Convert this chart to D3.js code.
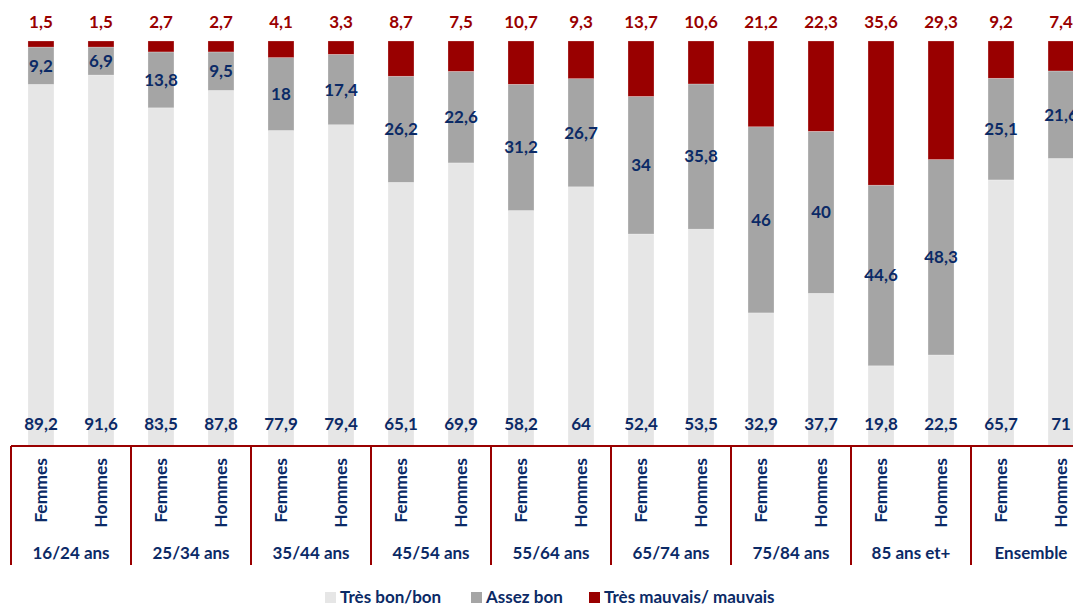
<!DOCTYPE html>
<html>
<head>
<meta charset="utf-8">
<script src="https://cdn.jsdelivr.net/npm/d3@7"></script>
<style>
  body { margin: 0; background: #fff; }
  svg text { font-family: Lato, "Open Sans", sans-serif; font-weight: bold; }
</style>
</head>
<body>
<svg width="1073" height="604"></svg>
<script>
// data
var ageGroups = ["16/24 ans", "25/34 ans", "35/44 ans", "45/54 ans", "55/64 ans",
                 "65/74 ans", "75/84 ans", "85 ans et+", "Ensemble"];
var sexes = ["Femmes", "Hommes"];

var tresBon  = [89.2, 91.6, 83.5, 87.8, 77.9, 79.4, 65.1, 69.9, 58.2, 64, 52.4, 53.5, 32.9, 37.7, 19.8, 22.5, 65.7, 71];
var assezBon = [9.2, 6.9, 13.8, 9.5, 18, 17.4, 26.2, 22.6, 31.2, 26.7, 34, 35.8, 46, 40, 44.6, 48.3, 25.1, 21.6];
var mauvais  = [1.5, 1.5, 2.7, 2.7, 4.1, 3.3, 8.7, 7.5, 10.7, 9.3, 13.7, 10.6, 21.2, 22.3, 35.6, 29.3, 9.2, 7.4];

var seriesNames = ["Très bon/bon", "Assez bon", "Très mauvais/ mauvais"];
var keys = ["bon", "assez", "mauvais"];
var colors = ["#e6e6e6", "#a5a5a5", "#990000"];

var navy = "#0b2a66";
var red = "#990000";

var svg = d3.select("svg"),
    width = +svg.attr("width"),
    height = +svg.attr("height");

var left = 11, groupW = 120, axisY = 446, topY = 41;

// build rows
var rows = [];
ageGroups.forEach(function(g, gi) {
  sexes.forEach(function(s, si) {
    var i = gi * 2 + si;
    rows.push({ id: i, group: g, sex: s, bon: tresBon[i], assez: assezBon[i], mauvais: mauvais[i] });
  });
});

//--- scales ----//
var x = d3.scaleBand()
  .domain(rows.map(d => d.id))
  .range([left, left + groupW * ageGroups.length])
  .paddingInner(0.567)
  .paddingOuter(0.283);

var y = d3.scaleLinear()
  .domain([0, 1])
  .range([axisY, topY]);

var layers = d3.stack()
  .keys(keys)
  .offset(d3.stackOffsetExpand)(rows);

var fmt = v => String(v).replace(".", ",");

//--- bars ----//
var g = svg.append("g");
g.selectAll("g.layer")
  .data(layers)
  .enter()
  .append("g")
  .attr("class", "layer")
  .attr("fill", (d, i) => colors[i])
  .selectAll("rect")
  .data(d => d)
  .enter()
  .append("rect")
  .attr("x", d => x(d.data.id))
  .attr("y", d => y(d[1]))
  .attr("width", x.bandwidth())
  .attr("height", d => y(d[0]) - y(d[1]))
  .attr("stroke", "#fff")
  .attr("stroke-opacity", 0.4)
  .attr("stroke-width", 0.6);

var cx = d => x(d.data.id) + x.bandwidth() / 2;

// labels: bottom values
g.selectAll("text.bon")
  .data(layers[0])
  .enter()
  .append("text")
  .attr("x", cx)
  .attr("y", 424)
  .attr("dy", "0.35em")
  .attr("text-anchor", "middle")
  .attr("font-size", "17px")
  .attr("fill", navy)
  .text(d => fmt(d.data.bon));

// middle values
g.selectAll("text.assez")
  .data(layers[1])
  .enter()
  .append("text")
  .attr("x", cx)
  .attr("y", d => (y(d[0]) + y(d[1])) / 2)
  .attr("dy", "0.35em")
  .attr("text-anchor", "middle")
  .attr("font-size", "17px")
  .attr("fill", navy)
  .text(d => fmt(d.data.assez));

// top values
g.selectAll("text.mauvais")
  .data(layers[2])
  .enter()
  .append("text")
  .attr("x", cx)
  .attr("y", 22)
  .attr("dy", "0.35em")
  .attr("text-anchor", "middle")
  .attr("font-size", "17px")
  .attr("fill", red)
  .text(d => fmt(d.data.mauvais));

//--- category axis ----//
var ax = svg.append("g");
ax.append("line")
  .attr("x1", left).attr("x2", left + groupW * ageGroups.length)
  .attr("y1", axisY).attr("y2", axisY)
  .attr("stroke", red).attr("stroke-width", 2);

ax.selectAll("line.sep")
  .data(d3.range(ageGroups.length + 1))
  .enter()
  .append("line")
  .attr("x1", i => left + i * groupW).attr("x2", i => left + i * groupW)
  .attr("y1", axisY).attr("y2", 565)
  .attr("stroke", red).attr("stroke-width", 2);

ax.selectAll("text.sex")
  .data(rows)
  .enter()
  .append("text")
  .attr("transform", d => "translate(" + (x(d.id) + x.bandwidth() / 2) + ",458) rotate(-90)")
  .attr("text-anchor", "end")
  .attr("dy", "0.35em")
  .attr("font-size", "17.5px")
  .attr("fill", navy)
  .text(d => d.sex);

ax.selectAll("text.group")
  .data(ageGroups)
  .enter()
  .append("text")
  .attr("x", (d, i) => left + i * groupW + groupW / 2)
  .attr("y", 553)
  .attr("dy", "0.35em")
  .attr("text-anchor", "middle")
  .attr("font-size", "17px")
  .attr("fill", navy)
  .text(d => d);

//--- legend ----//
var legendX = [325, 471, 589];
var leg = svg.append("g");
seriesNames.forEach(function(name, i) {
  leg.append("rect")
    .attr("x", legendX[i]).attr("y", 592)
    .attr("width", 11).attr("height", 11)
    .attr("fill", colors[i]);
  leg.append("text")
    .attr("x", legendX[i] + 15).attr("y", 597)
    .attr("dy", "0.35em")
    .attr("font-size", "17px")
    .attr("fill", navy)
    .text(name);
});
</script>
</body>
</html>
